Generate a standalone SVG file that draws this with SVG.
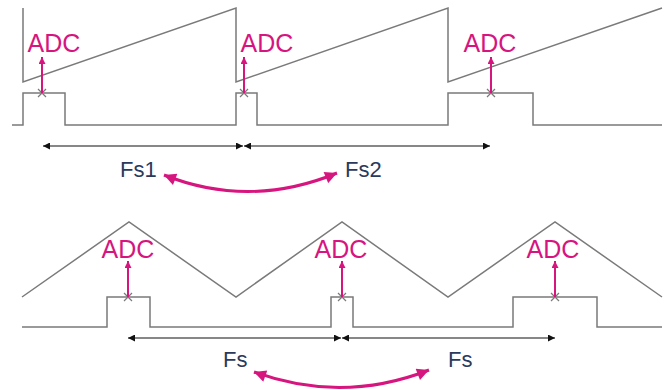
<svg xmlns="http://www.w3.org/2000/svg" width="670" height="390" viewBox="0 0 670 390">
<defs>
<marker id="blk" viewBox="0 0 10 10" refX="10" refY="5" markerWidth="7" markerHeight="7" orient="auto-start-reverse" markerUnits="userSpaceOnUse">
<path d="M0,0 L10,5 L0,10 Z" fill="#111"/>
</marker>
<marker id="mag" viewBox="0 0 10 10" refX="10" refY="5" markerWidth="14" markerHeight="12" orient="auto-start-reverse" markerUnits="userSpaceOnUse">
<path d="M0,0 L10,5 L0,10 Z" fill="#d6157f"/>
</marker>
<marker id="magS" viewBox="0 0 10 10" refX="10" refY="5" markerWidth="8" markerHeight="7" orient="auto-start-reverse" markerUnits="userSpaceOnUse">
<path d="M0,0 L10,5 L0,10 Z" fill="#d6157f"/>
</marker>
</defs>
<style>
.wave{fill:none;stroke:#7a7a7a;stroke-width:1.5}
.x{stroke:#7a7a7a;stroke-width:1.2}
.adc{font-family:"Liberation Sans",Arial,sans-serif;font-size:25px;fill:#d6157f;text-anchor:middle}
.fs{font-family:"Liberation Sans",Arial,sans-serif;font-size:22px;fill:#2b3a5c}
.up{stroke:#d6157f;stroke-width:2;marker-end:url(#magS)}
.dim{stroke:#111;stroke-width:1.2;fill:none;marker-start:url(#blk);marker-end:url(#blk)}
.curve{stroke:#d6157f;stroke-width:3;fill:none;marker-start:url(#mag);marker-end:url(#mag)}
</style>
<g id="top-saw"><path class="wave" d="M23,8 L23,82 L236,8 L236,82 L448,8 L448,82 L662,8"/></g>
<g id="top-pulse"><path class="wave" d="M12,125 L23,125 L23,93 L65,93 L65,125 L236,125 L236,93 L257,93 L257,125 L448,125 L448,93 L533,93 L533,125 L662,125"/></g>
<g id="top-adc1"><path class="x" d="M38,89 L46,97 M46,89 L38,97"/><line class="up" x1="42" y1="93" x2="42" y2="57"/><text class="adc" x="54" y="52">ADC</text></g>
<g id="top-adc2"><path class="x" d="M240,89 L248,97 M248,89 L240,97"/><line class="up" x1="244" y1="93" x2="244" y2="57"/><text class="adc" x="267" y="52">ADC</text></g>
<g id="top-adc3"><path class="x" d="M487,89 L495,97 M495,89 L487,97"/><line class="up" x1="491" y1="93" x2="491" y2="57"/><text class="adc" x="490" y="52">ADC</text></g>
<g id="fs1"><text class="fs" x="120" y="177">Fs1</text></g>
<g id="fs2"><text class="fs" x="345" y="177">Fs2</text></g>
<g id="bot-tri"><path class="wave" d="M22,297 L129,222 L236,297 L342,222 L448,297 L555,222 L662,297"/></g>
<g id="bot-pulse"><path class="wave" d="M22,327 L107,327 L107,297 L150,297 L150,327 L331,327 L331,297 L353,297 L353,327 L513,327 L513,297 L597,297 L597,327 L662,327"/></g>
<g id="bot-adc1"><path class="x" d="M124,293 L132,301 M132,293 L124,301"/><line class="up" x1="128" y1="297" x2="128" y2="261"/><text class="adc" x="128" y="258">ADC</text></g>
<g id="bot-adc2"><path class="x" d="M338,293 L346,301 M346,293 L338,301"/><line class="up" x1="342" y1="297" x2="342" y2="261"/><text class="adc" x="341" y="258">ADC</text></g>
<g id="bot-adc3"><path class="x" d="M551,293 L559,301 M559,293 L551,301"/><line class="up" x1="555" y1="297" x2="555" y2="261"/><text class="adc" x="553" y="258">ADC</text></g>
<g id="fs-a"><text class="fs" x="223" y="367">Fs</text></g>
<g id="fs-b"><text class="fs" x="448" y="367">Fs</text></g>
<g id="connectors">
<line class="dim" x1="43" y1="146" x2="243" y2="146"/>
<line class="dim" x1="244" y1="146" x2="490" y2="146"/>
<line class="dim" x1="128" y1="338" x2="341" y2="338"/>
<line class="dim" x1="342" y1="338" x2="555" y2="338"/>
<path class="curve" d="M164,175 Q250,209 337,173"/>
<path class="curve" d="M254,372 Q342,404 429,370"/>
</g>
</svg>
